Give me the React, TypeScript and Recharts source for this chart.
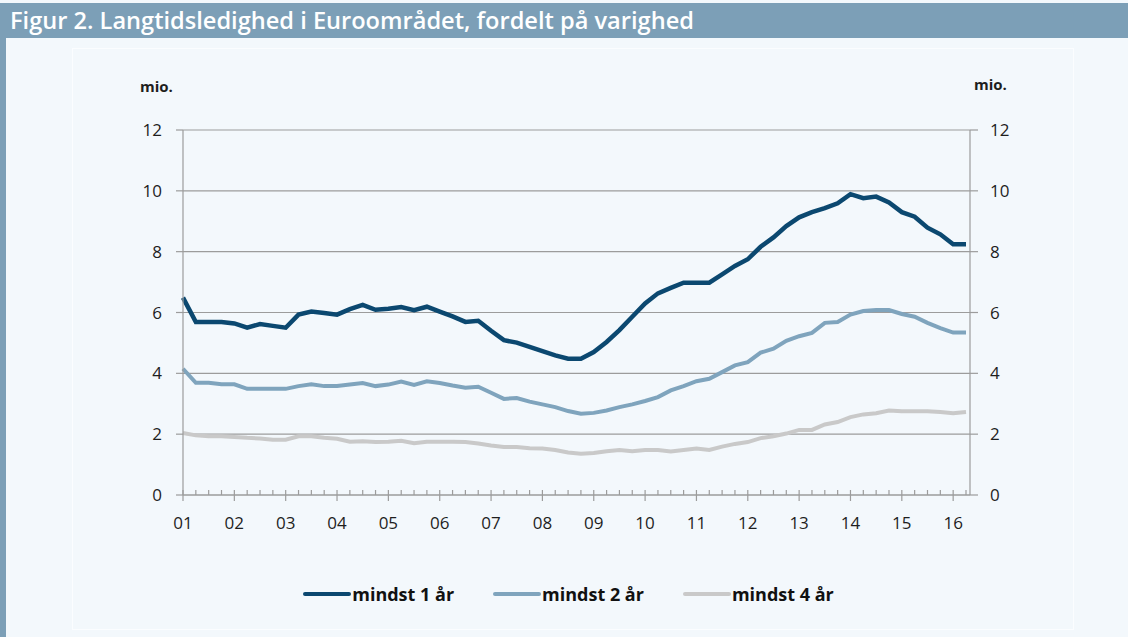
import React from 'react';
import { LineChart, Line, XAxis, YAxis, CartesianGrid, Legend } from 'recharts';

// quarterly data 2001Q1 - 2016Q2, million persons
const years = ['01', '02', '03', '04', '05', '06', '07', '08', '09', '10', '11', '12', '13', '14', '15', '16'];
const yTicks = [0, 2, 4, 6, 8, 10, 12];

const minst1 = [
  6.49, 5.69, 5.69, 5.69, 5.64, 5.5, 5.62, 5.56, 5.5, 5.93, 6.03, 5.98, 5.93, 6.11, 6.25, 6.09,
  6.12, 6.18, 6.08, 6.19, 6.03, 5.87, 5.69, 5.73, 5.4, 5.09, 5.01, 4.87, 4.73, 4.59, 4.48, 4.48,
  4.7, 5.03, 5.42, 5.86, 6.3, 6.63, 6.81, 6.98, 6.98, 6.98, 7.25, 7.53, 7.75, 8.16, 8.47, 8.84,
  9.13, 9.3, 9.43, 9.59, 9.89, 9.76, 9.81, 9.62, 9.3, 9.15, 8.79, 8.57, 8.24, 8.24,
];
const minst2 = [
  4.15, 3.69, 3.69, 3.64, 3.64, 3.49, 3.49, 3.49, 3.49, 3.58, 3.64, 3.58, 3.58, 3.63, 3.68, 3.58,
  3.63, 3.73, 3.62, 3.74, 3.68, 3.6, 3.53, 3.56, 3.36, 3.16, 3.19, 3.07, 2.98, 2.89, 2.76, 2.67,
  2.7, 2.78, 2.89, 2.98, 3.09, 3.22, 3.44, 3.58, 3.74, 3.82, 4.04, 4.26, 4.37, 4.68, 4.81, 5.07,
  5.22, 5.33, 5.66, 5.69, 5.93, 6.05, 6.08, 6.08, 5.95, 5.86, 5.66, 5.49, 5.34, 5.34,
];
const minst4 = [
  2.04, 1.96, 1.93, 1.93, 1.91, 1.88, 1.86, 1.82, 1.82, 1.93, 1.93, 1.88, 1.85, 1.75, 1.77, 1.74,
  1.75, 1.78, 1.7, 1.75, 1.75, 1.75, 1.74, 1.69, 1.63, 1.58, 1.58, 1.54, 1.53, 1.48, 1.4, 1.36,
  1.38, 1.44, 1.48, 1.44, 1.48, 1.48, 1.43, 1.48, 1.53, 1.48, 1.59, 1.68, 1.74, 1.87, 1.93, 2.02,
  2.14, 2.14, 2.32, 2.4, 2.56, 2.65, 2.69, 2.78, 2.75, 2.75, 2.75, 2.73, 2.69, 2.73,
];

const series = [
  { key: 'm1', name: 'mindst 1 år', color: '#0B4870', width: 4.5 },
  { key: 'm2', name: 'mindst 2 år', color: '#7FA4BD', width: 4 },
  { key: 'm4', name: 'mindst 4 år', color: '#C9C9C9', width: 4 },
];

const data = minst1.map((v, i) => ({
  q: `${years[Math.floor(i / 4)]}-${(i % 4) + 1}`,
  m1: v,
  m2: minst2[i],
  m4: minst4[i],
}));

const FONT = '"Open Sans", "DejaVu Sans", sans-serif';
const AXIS = '#9C9C9C';
const TEXT = '#1E1E1E';

const XTick = (props: any) => {
  const { x, y, payload } = props;
  const [yr, q] = String(payload.value).split('-');
  const major = q === '1';
  return (
    <g>
      <line x1={x} x2={x} y1={y - 5} y2={major ? y + 6 : y} stroke={AXIS} strokeWidth={1.2} />
      {major && (
        <text x={x} y={y + 34} textAnchor="middle" fill={TEXT} fontSize={17} fontFamily={FONT}>
          {yr}
        </text>
      )}
    </g>
  );
};

const LegendContent = () => (
  <div style={{ display: 'flex', justifyContent: 'center', gap: 38, fontFamily: FONT }}>
    {series.map((s) => (
      <div key={s.key} style={{ display: 'flex', alignItems: 'center' }}>
        <svg width={50} height={10}>
          <line x1={3} x2={47} y1={5} y2={5} stroke={s.color} strokeWidth={4} strokeLinecap="round" />
        </svg>
        <span style={{ fontSize: 18, fontWeight: 700, color: '#111', lineHeight: '20px' }}>{s.name}</span>
      </div>
    ))}
  </div>
);

export default function App() {
  return (
    <div
      style={{
        position: 'absolute',
        left: 0,
        top: 0,
        width: 1128,
        height: 637,
        background: '#F3F8FC',
        overflow: 'hidden',
        fontFamily: FONT,
      }}
    >
      <div style={{ position: 'absolute', left: 0, top: 3, width: 1128, height: 35, background: '#7C9FB7' }} />
      <div style={{ position: 'absolute', left: 0, top: 3, width: 6, height: 634, background: '#7C9FB7' }} />
      <div
        style={{
          position: 'absolute',
          left: 10,
          top: 6,
          color: '#fff',
          fontSize: 23.6,
          fontWeight: 600,
          lineHeight: '28px',
          whiteSpace: 'nowrap',
        }}
      >
        Figur 2. Langtidsledighed i Euroområdet, fordelt på varighed
      </div>
      <div
        style={{
          position: 'absolute',
          left: 72,
          top: 48,
          width: 1000,
          height: 580,
          border: '1px solid #FBFDFF',
        }}
      />
      <div style={{ position: 'absolute', left: 140, top: 79, fontSize: 15, fontWeight: 700, color: TEXT, lineHeight: '15px' }}>
        mio.
      </div>
      <div style={{ position: 'absolute', left: 974, top: 77, fontSize: 15, fontWeight: 700, color: TEXT, lineHeight: '15px' }}>
        mio.
      </div>
      <div style={{ position: 'absolute', left: 0, top: 0 }}>
        <LineChart width={1128} height={637} data={data} margin={{ top: 130, right: 0, bottom: 112, left: 0 }}>
          <CartesianGrid vertical={false} stroke={AXIS} strokeWidth={1.2} yAxisId="left" />
          <XAxis
            dataKey="q"
            interval={0}
            tickSize={0}
            tickMargin={0}
            tickLine={false}
            height={30}
            padding={{ left: 0, right: 4 }}
            axisLine={{ stroke: AXIS, strokeWidth: 1.2 }}
            tick={(p: any) => <XTick {...p} />}
          />
          <YAxis
            yAxisId="left"
            domain={[0, 12]}
            ticks={yTicks}
            width={183}
            tickSize={7}
            tickMargin={14}
            axisLine={{ stroke: AXIS, strokeWidth: 1.2 }}
            tickLine={{ stroke: AXIS, strokeWidth: 1.2 }}
            tick={{ fill: TEXT, fontSize: 17, fontFamily: FONT }}
          />
          <YAxis
            yAxisId="right"
            orientation="right"
            domain={[0, 12]}
            ticks={yTicks}
            width={158}
            tickSize={8}
            tickMargin={12}
            axisLine={{ stroke: AXIS, strokeWidth: 1.2 }}
            tickLine={{ stroke: AXIS, strokeWidth: 1.2 }}
            tick={{ fill: TEXT, fontSize: 17, fontFamily: FONT, textAnchor: 'start' }}
          />
          {series.map((s, i) => (
            <Line
              key={s.key}
              yAxisId={i === 2 ? 'right' : 'left'}
              dataKey={s.key}
              name={s.name}
              type="linear"
              stroke={s.color}
              strokeWidth={s.width}
              dot={false}
              activeDot={false}
              isAnimationActive={false}
            />
          ))}
          <Legend
            layout="horizontal"
            verticalAlign="middle"
            align="center"
            wrapperStyle={{ top: 584, left: 4, width: 1128 }}
            content={() => <LegendContent />}
          />
        </LineChart>
      </div>
    </div>
  );
}
